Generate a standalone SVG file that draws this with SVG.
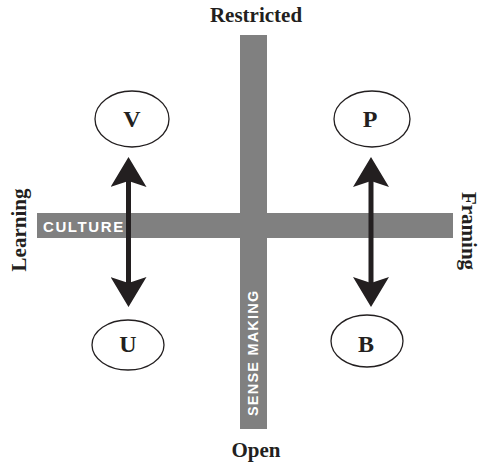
<svg xmlns="http://www.w3.org/2000/svg" width="480" height="465" viewBox="0 0 480 465">
  <style>
    .axis { font-family: "Liberation Serif", "Times New Roman", serif; font-weight: bold; font-size: 21px; fill: #231f20; }
    .bar { fill: #808080; }
    .barlabel { font-family: "Liberation Sans", Arial, sans-serif; font-weight: bold; fill: #ffffff; }
    .node ellipse { fill: #ffffff; stroke: #231f20; stroke-width: 1.3; }
    .node text { font-family: "Liberation Serif", "Times New Roman", serif; font-weight: bold; font-size: 24px; fill: #231f20; text-anchor: middle; }
    .link { stroke: #231f20; stroke-width: 5; fill: none; marker-start: url(#head); marker-end: url(#head); }
  </style>
  <defs>
    <marker id="head" viewBox="0 0 30 36" refX="15" refY="18" markerWidth="30" markerHeight="36" markerUnits="userSpaceOnUse" orient="auto-start-reverse">
      <path d="M0,0 L30,18 L0,36 L6,18 Z" fill="#231f20"/>
    </marker>
  </defs>

  <rect width="480" height="465" fill="#ffffff"/>

  <!-- axis titles -->
  <text class="axis" x="256" y="22" text-anchor="middle">Restricted</text>
  <text class="axis" x="256" y="457" text-anchor="middle">Open</text>
  <text class="axis" text-anchor="middle" transform="translate(26,230) rotate(-90)">Learning</text>
  <text class="axis" text-anchor="middle" transform="translate(462,231) rotate(90)">Framing</text>

  <!-- cross bars -->
  <g id="culture">
    <rect class="bar" x="37" y="213" width="416" height="25"/>
    <text class="barlabel" x="43" y="232" font-size="15" letter-spacing="1.6">CULTURE</text>
  </g>
  <g id="sense-making">
    <rect class="bar" x="240" y="35" width="27" height="394"/>
    <text class="barlabel" font-size="14.5" letter-spacing="1.2" transform="translate(258,416) rotate(-90)">SENSE MAKING</text>
  </g>

  <!-- connectors -->
  <g id="connectors">
    <line class="link" x1="128.5" y1="172" x2="128.5" y2="292"/>
    <line class="link" x1="371" y1="172" x2="371" y2="292"/>
  </g>

  <!-- nodes -->
  <g id="node-v" class="node">
    <ellipse cx="132" cy="119" rx="37" ry="28"/>
    <text x="132" y="127">V</text>
  </g>
  <g id="node-p" class="node">
    <ellipse cx="372" cy="119" rx="38" ry="28"/>
    <text x="370" y="127">P</text>
  </g>
  <g id="node-u" class="node">
    <ellipse cx="128" cy="345" rx="36" ry="25"/>
    <text x="128" y="352">U</text>
  </g>
  <g id="node-b" class="node">
    <ellipse cx="367" cy="341" rx="36" ry="26"/>
    <text x="366" y="352">B</text>
  </g>
</svg>
